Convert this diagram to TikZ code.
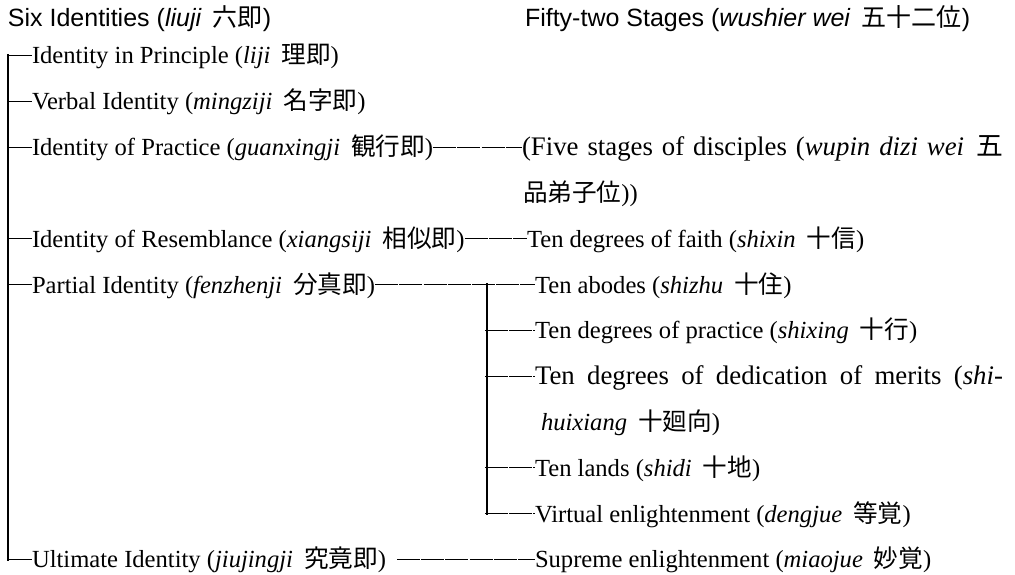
\documentclass[tikz,border=0pt]{standalone}
\usepackage{fontspec}
\setmainfont{Liberation Serif}
\newfontfamily\hdrfont{Liberation Sans}
\newfontfamily\cjkfont{Noto Sans CJK JP}
\newcommand\cj[1]{\hspace{0.45em}{\cjkfont #1}}
\begin{document}
\begin{tikzpicture}[x=1pt,y=1pt,
  txt/.style={anchor=base west, inner sep=0pt, outer sep=0pt, font=\fontsize{24.6}{28}\selectfont},
  bigtxt/.style={txt, font=\fontsize{26.8}{30}\selectfont},
  hd/.style={txt, font=\fontsize{25}{28}\selectfont\hdrfont},
  conn/.style={line width=1pt, black},
  link/.style={conn, dash pattern=on 23pt off 1.2pt},
  bar/.style={line width=2.8pt, black, line cap=rect},
  ibar/.style={line width=2.2pt, black, line cap=rect}]
\useasboundingbox (0,0) rectangle (1015,-575);
% headers
\node[hd] (h1) at (8,-27) {Six Identities (\textit{liuji}\cj{六即})};
\node[hd] (h2) at (525,-27) {Fifty-two Stages (\textit{wushier wei}\cj{五十二位})};
% six identities
\node[txt] (p1) at (32,-64)    {Identity in Principle (\textit{liji}\cj{理即})};
\node[txt] (p2) at (32,-109.8) {Verbal Identity (\textit{mingziji}\cj{名字即})};
\node[txt] (p3) at (32,-155.6) {Identity of Practice (\textit{guanxingji}\cj{観行即})};
\node[txt] (p4) at (32,-247.2) {Identity of Resemblance (\textit{xiangsiji}\cj{相似即})};
\node[txt] (p5) at (32,-293.0) {Partial Identity (\textit{fenzhenji}\cj{分真即})};
\node[txt] (p6) at (32,-567.8) {Ultimate Identity (\textit{jiujingji}\cj{究竟即})\hspace*{11pt}};
% fifty-two stages
\node[bigtxt] (r1) at (522,-155.6) {\makebox[481pt][s]{(Five stages of disciples (\textit{wupin dizi wei}\cj{五}}};
\node[txt] (r1b) at (523,-201.4) {{\cjkfont 品弟子位}))};
\node[txt] (r2) at (527,-247.2) {Ten degrees of faith (\textit{shixin}\cj{十信})};
\node[txt] (r3) at (535,-293.0) {Ten abodes (\textit{shizhu}\cj{十住})};
\node[txt] (r4) at (535,-338.8) {Ten degrees of practice (\textit{shixing}\cj{十行})};
\node[bigtxt] (r5) at (535,-384.6) {\makebox[468pt][s]{Ten degrees of dedication of merits (\textit{shi-}}};
\node[txt] (r5b) at (541,-430.4) {\textit{huixiang}\cj{十廻向})};
\node[txt] (r6) at (535,-476.2) {Ten lands (\textit{shidi}\cj{十地})};
\node[txt] (r7) at (535,-522.0) {Virtual enlightenment (\textit{dengjue}\cj{等覚})};
\node[txt] (r8) at (535,-567.8) {Supreme enlightenment (\textit{miaojue}\cj{妙覚})};
% dash-level points
\foreach \n in {p1,p2,p3,p4,p5,p6,r1,r2,r3,r4,r5,r6,r7,r8}{
  \coordinate (\n w) at ([yshift=8.5pt]\n.base west);
  \coordinate (\n e) at ([yshift=8.5pt]\n.base east);
}
% outer bracket
\coordinate (ot) at (8,-55.5);
\coordinate (ob) at (8,-559.3);
\draw[bar] (ot) -- (ob);
\foreach \n in {p1,p2,p3,p4,p5,p6}{ \draw[conn] (ot |- \n w) -- (\n w); }
% links between columns
\draw[link] (p3e) -- (r1w);
\draw[link] (p4e) -- (r2w);
\draw[link] (p5e) -- (r3w);
\draw[link] (p6e) -- (r8w);
% inner bracket
\coordinate (it) at (487,-284.5);
\coordinate (ib) at (487,-513.5);
\draw[ibar] (it) -- (ib);
\foreach \n in {r4,r5,r6,r7}{ \draw[link] ([xshift=-2pt]it |- \n w) -- (\n w); }
\end{tikzpicture}
\end{document}
